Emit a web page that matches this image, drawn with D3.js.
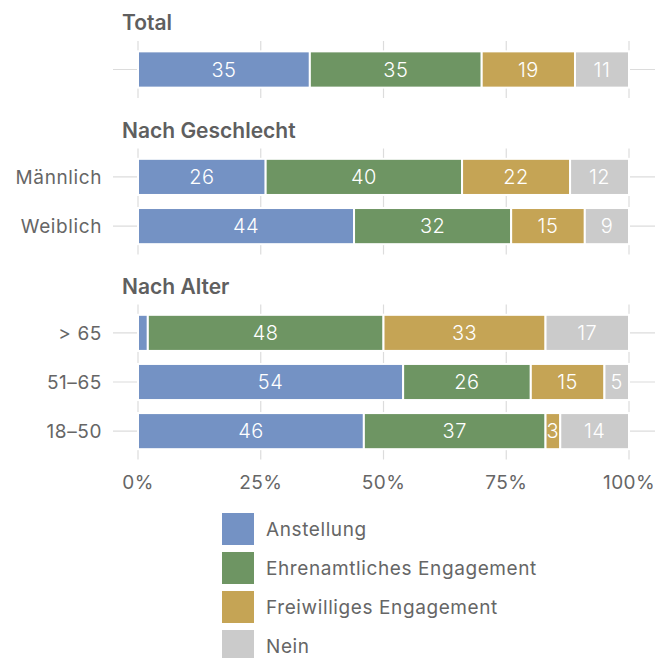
<!DOCTYPE html>
<html>
<head>
<meta charset="utf-8">
<script src="https://cdn.jsdelivr.net/npm/d3@7"></script>
<style>
  html, body { margin: 0; padding: 0; background: #fff; }
  svg text { font-family: Inter, "Noto Sans", sans-serif; }
</style>
</head>
<body>
<div id="chart"></div>
<script>
// Engagement shares (%) by group
const seriesNames = ["Anstellung", "Ehrenamtliches Engagement", "Freiwilliges Engagement", "Nein"];
const seriesColors = ["#7492c4", "#6e9563", "#c5a455", "#cbcbcb"];

const panelTitles = ["Total", "Nach Geschlecht", "Nach Alter"];
const panelRows = [
  ["Total"],
  ["Männlich", "Weiblich"],
  ["> 65", "51–65", "18–50"]
];
const showRowLabels = [false, true, true];

const anstellung      = [35, 26, 44, 2, 54, 46];
const ehrenamtlich    = [35, 40, 32, 48, 26, 37];
const freiwillig      = [19, 22, 15, 33, 15, 3];
const nein            = [11, 12, 9, 17, 5, 14];

const xTicks = [0, 25, 50, 75, 100];
const xTickLabels = ["0%", "25%", "50%", "75%", "100%"];

const W = 661, H = 658;
const svg = d3.select("#chart").append("svg").attr("width", W).attr("height", H);

const x = d3.scaleLinear().domain([0, 100]).range([138, 629]);

const panelTops = [41, 148.5, 304.5];
const step = 49;

let idx = 0;
const panels = panelRows.map((rows, p) => {
  const n = rows.length;
  const y = d3.scaleBand().domain(rows)
    .range([panelTops[p], panelTops[p] + n * step + 8])
    .paddingInner(13 / 49).paddingOuter(0.21);
  const data = rows.map(r => {
    const vals = [anstellung[idx], ehrenamtlich[idx], freiwillig[idx], nein[idx]];
    idx++;
    return { row: r, vals };
  });
  return { y, data, title: panelTitles[p], p };
});

panels.forEach(panel => {
  const g = svg.append("g");
  const [y0, y1] = panel.y.range();

  // panel title
  g.append("text")
    .attr("x", 122).attr("y", y0 - 11)
    .attr("font-size", 21).attr("font-weight", 600)
    .attr("fill", "#5f5f5f")
    .text(panel.title);

  // vertical grid
  g.selectAll(".vg").data(xTicks).join("line")
    .attr("x1", d => x(d)).attr("x2", d => x(d))
    .attr("y1", y0).attr("y2", y1)
    .attr("stroke", "#dcdcdc").attr("stroke-width", 1.2);

  // horizontal row lines
  g.selectAll(".hg").data(panel.data).join("line")
    .attr("x1", 113).attr("x2", 655)
    .attr("y1", d => panel.y(d.row) + panel.y.bandwidth() / 2)
    .attr("y2", d => panel.y(d.row) + panel.y.bandwidth() / 2)
    .attr("stroke", "#dcdcdc").attr("stroke-width", 1.2);

  // row labels
  if (showRowLabels[panel.p]) {
    g.selectAll(".rl").data(panel.data).join("text")
      .attr("x", 102)
      .attr("y", d => panel.y(d.row) + panel.y.bandwidth() / 2)
      .attr("dy", "0.35em")
      .attr("text-anchor", "end")
      .attr("font-size", 19).attr("letter-spacing", 0.6)
      .attr("fill", "#666")
      .text(d => d.row);
  }

  // stacked bars
  panel.data.forEach(d => {
    let cum = 0;
    const segs = d.vals.map((v, i) => {
      const s = { start: cum, end: cum + v, v, i };
      cum += v;
      return s;
    });
    const rg = g.append("g");
    rg.selectAll("rect").data(segs).join("rect")
      .attr("x", s => x(s.start))
      .attr("width", s => Math.max(0, x(s.end) - x(s.start)))
      .attr("y", panel.y(d.row))
      .attr("height", panel.y.bandwidth())
      .attr("fill", s => seriesColors[s.i])
      .attr("stroke", "#fff").attr("stroke-width", 2);
    rg.selectAll("text").data(segs.filter(s => s.v >= 3)).join("text")
      .attr("x", s => (x(s.start) + x(s.end)) / 2)
      .attr("y", panel.y(d.row) + panel.y.bandwidth() / 2)
      .attr("dy", "0.36em")
      .attr("text-anchor", "middle")
      .attr("font-size", 20).attr("font-weight", 300).attr("letter-spacing", 0.5)
      .attr("fill", "#fff")
      .text(s => s.v);
  });
});

// x axis labels
svg.selectAll(".xl").data(xTicks).join("text")
  .attr("x", d => x(d)).attr("y", 482)
  .attr("dy", "0.35em")
  .attr("text-anchor", "middle")
  .attr("font-size", 19).attr("letter-spacing", 0.4)
  .attr("fill", "#666")
  .text((d, i) => xTickLabels[i]);

// legend
const lg = svg.append("g").attr("transform", "translate(222,513)");
const li = lg.selectAll("g").data(seriesNames).join("g")
  .attr("transform", (d, i) => `translate(0,${i * 39})`);
li.append("rect").attr("width", 32).attr("height", 32)
  .attr("fill", (d, i) => seriesColors[i]);
li.append("text").attr("x", 44).attr("y", 16).attr("dy", "0.35em")
  .attr("font-size", 19).attr("letter-spacing", 0.6)
  .attr("fill", "#666")
  .text(d => d);
</script>
</body>
</html>
